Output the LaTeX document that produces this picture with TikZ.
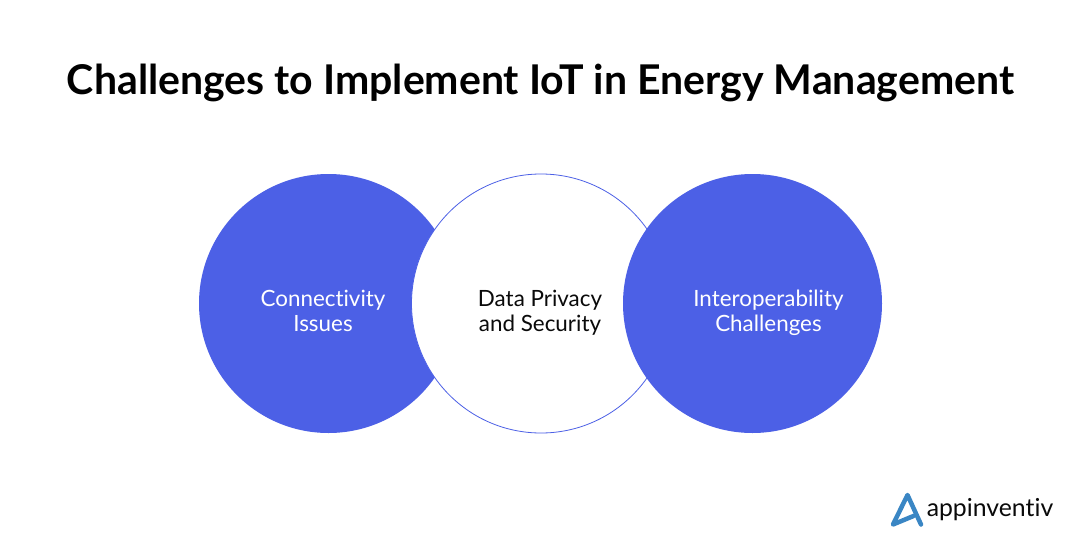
\documentclass[tikz,border=0pt]{standalone}
\usepackage{fontspec}
\setmainfont[Ligatures=NoCommon,RawFeature={-liga;-dlig}]{Lato}
\definecolor{brandblue}{HTML}{4C60E6}
\definecolor{logoblue}{HTML}{3A86C4}
\definecolor{inkblack}{HTML}{0A0A0A}
\tikzset{
  disc/.style={circle,minimum size=259pt,inner sep=0pt,fill=brandblue,draw=none},
  ring/.style={circle,minimum size=259pt,inner sep=0pt,fill=white,draw=brandblue,line width=0.8pt},
  lab/.style={align=center,font=\fontsize{22.4}{25}\selectfont,text depth=5pt},
  titlelab/.style={font=\fontsize{41}{45}\selectfont\bfseries,text=black}
}
\begin{document}
\begin{tikzpicture}[x=1pt,y=-1pt]
\useasboundingbox[fill=white] (0,0) rectangle (1080,557);
\node[titlelab] (title) at (540.5,83) {Challenges to Implement IoT in Energy Management};
\node[disc] (left) at (328.5,303.5) {};
\node[ring] (mid) at (541,303.5) {};
\node[disc] (right) at (752.5,303.5) {};
\node[lab,text=white] (t1) at (323,313) {Connectivity\\Issues};
\node[lab,text=inkblack] (t2) at (540,313) {Data Privacy\\and Security};
\node[lab,text=white] (t3) at (768.5,313) {Interoperability\\Challenges};
\draw[logoblue,line width=4.5pt,line cap=round,line join=round]
  (913.5,516) -- (893,524.5) -- (907.5,495) -- (921,524.5);
\node[inner sep=0pt,font=\fontsize{24.8}{28}\selectfont,text=inkblack] (logo) at (990,510) {appinventiv};
\end{tikzpicture}
\end{document}
